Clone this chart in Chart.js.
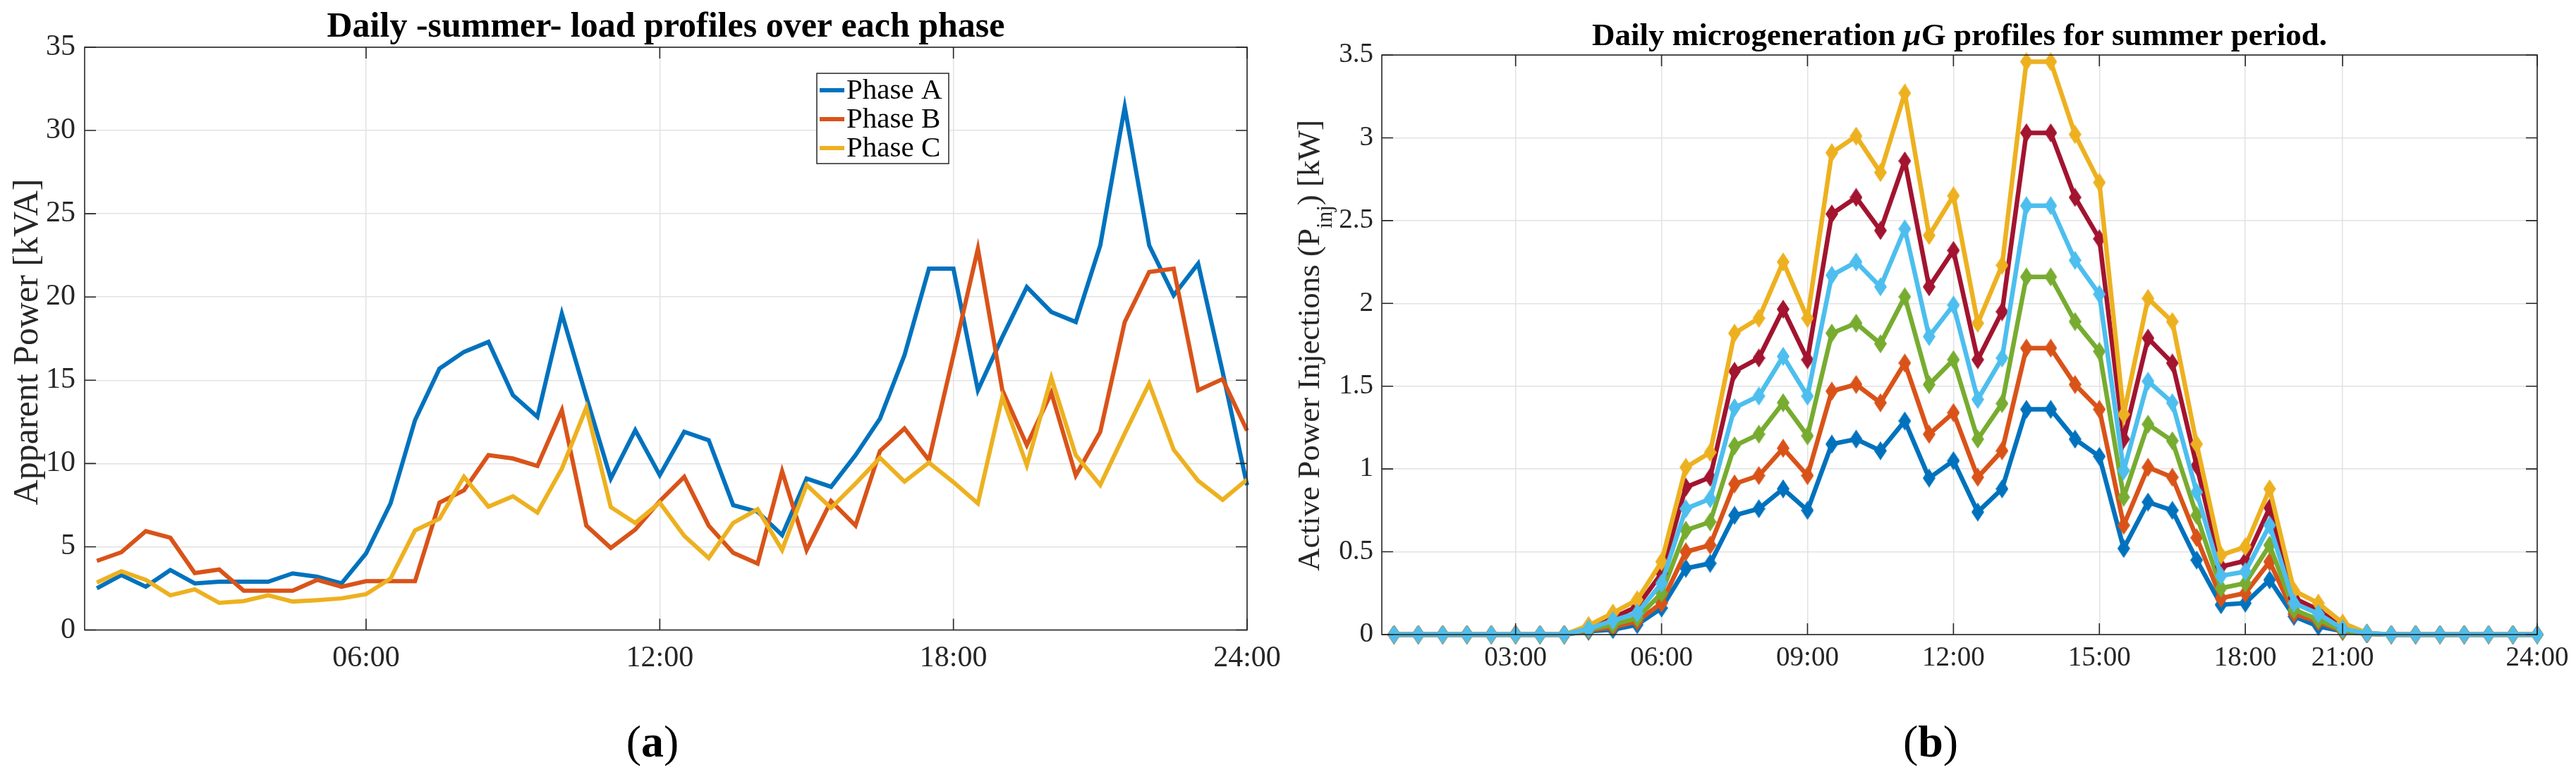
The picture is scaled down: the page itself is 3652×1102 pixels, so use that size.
<!DOCTYPE html>
<html>
<head>
<meta charset="utf-8">
<title>Daily summer load and microgeneration profiles</title>
<script src="https://cdn.jsdelivr.net/npm/chart.js@4.4.1/dist/chart.umd.min.js"></script>
<style>
  html, body { margin: 0; padding: 0; background: #fff; }
  #page { position: relative; width: 3652px; height: 1102px; overflow: hidden; }
  #page canvas { position: absolute; top: 0; }
</style>
</head>
<body>
<div id="page">
  <canvas id="load_chart" width="1830" height="1102" style="left:0"></canvas>
  <canvas id="gen_chart" width="1822" height="1102" style="left:1830px"></canvas>
</div>
<script>
// time of each sample, hours after midnight (one every half hour)
const hours = [0.5, 1, 1.5, 2, 2.5, 3, 3.5, 4, 4.5, 5, 5.5, 6, 6.5, 7, 7.5, 8,
  8.5, 9, 9.5, 10, 10.5, 11, 11.5, 12, 12.5, 13, 13.5, 14, 14.5, 15, 15.5, 16,
  16.5, 17, 17.5, 18, 18.5, 19, 19.5, 20, 20.5, 21, 21.5, 22, 22.5, 23, 23.5, 24]

// (a) apparent power per phase [kVA]
const phaseA = [2.5, 3.3, 2.6, 3.6, 2.8, 2.9, 2.9, 2.9, 3.4, 3.2, 2.8, 4.6,
  7.6, 12.6, 15.7, 16.7, 17.3, 14.1, 12.8, 19.0, 14.0, 9.1, 12.0, 9.3,
  11.9, 11.4, 7.5, 7.1, 5.7, 9.1, 8.6, 10.5, 12.7, 16.5, 21.7, 21.7,
  14.4, 17.6, 20.6, 19.1, 18.5, 23.1, 31.4, 23.1, 20.1, 22.0, 15.5, 8.7]
const phaseB = [4.15, 4.67, 5.94, 5.54, 3.42, 3.63, 2.36, 2.36, 2.36, 3.01, 2.6, 2.93,
  2.93, 2.93, 7.65, 8.39, 10.5, 10.3, 9.85, 13.2, 6.27, 4.93, 6.03, 7.74,
  9.2, 6.27, 4.64, 3.99, 9.53, 4.8, 7.74, 6.27, 10.75, 12.1, 10.2, 16.5,
  22.9, 14.4, 11.1, 14.25, 9.28, 11.9, 18.5, 21.5, 21.7, 14.4, 15.07, 11.97]
const phaseC = [2.85, 3.53, 3.01, 2.08, 2.44, 1.63, 1.74, 2.08, 1.71, 1.79, 1.9, 2.15,
  3.09, 5.98, 6.68, 9.2, 7.41, 8.03, 7.05, 9.69, 13.36, 7.38, 6.43, 7.65,
  5.65, 4.32, 6.43, 7.25, 4.8, 8.71, 7.33, 8.79, 10.34, 8.91, 10.05, 8.88,
  7.6, 14.0, 9.89, 15.15, 10.5, 8.71, 11.8, 14.8, 10.83, 8.96, 7.82, 9.04]

// (b) microgeneration injections [kW], six profiles
const genBlue = [0, 0, 0, 0, 0, 0, 0, 0, 0.02, 0.03, 0.06, 0.16,
  0.40, 0.43, 0.72, 0.76, 0.88, 0.75, 1.15, 1.18, 1.11, 1.29, 0.945, 1.05,
  0.74, 0.88, 1.36, 1.36, 1.18, 1.076, 0.52, 0.80, 0.75, 0.45, 0.18, 0.19,
  0.33, 0.11, 0.05, 0.02, 0.005, 0, 0, 0, 0, 0, 0, 0]
const genOrange = [0, 0, 0, 0, 0, 0, 0, 0, 0.025, 0.045, 0.08, 0.19,
  0.50, 0.54, 0.91, 0.96, 1.125, 0.96, 1.47, 1.51, 1.40, 1.64, 1.21, 1.34,
  0.95, 1.11, 1.73, 1.73, 1.51, 1.36, 0.66, 1.01, 0.95, 0.585, 0.22, 0.25,
  0.44, 0.126, 0.077, 0.02, 0.005, 0, 0, 0, 0, 0, 0, 0]
const genGreen = [0, 0, 0, 0, 0, 0, 0, 0, 0.03, 0.06, 0.10, 0.25,
  0.63, 0.68, 1.14, 1.21, 1.40, 1.20, 1.82, 1.88, 1.756, 2.04, 1.51, 1.66,
  1.18, 1.395, 2.16, 2.16, 1.89, 1.71, 0.83, 1.27, 1.17, 0.72, 0.28, 0.31,
  0.54, 0.15, 0.09, 0.025, 0.005, 0, 0, 0, 0, 0, 0, 0]
const genSky = [0, 0, 0, 0, 0, 0, 0, 0, 0.035, 0.085, 0.13, 0.31,
  0.76, 0.82, 1.37, 1.44, 1.68, 1.44, 2.17, 2.25, 2.10, 2.45, 1.80, 1.99,
  1.42, 1.67, 2.59, 2.59, 2.26, 2.055, 0.99, 1.53, 1.40, 0.86, 0.355, 0.38,
  0.66, 0.19, 0.126, 0.035, 0.008, 0, 0, 0, 0, 0, 0, 0]
const genRed = [0, 0, 0, 0, 0, 0, 0, 0, 0.045, 0.10, 0.17, 0.37,
  0.89, 0.95, 1.59, 1.67, 1.965, 1.66, 2.54, 2.64, 2.44, 2.86, 2.10, 2.32,
  1.66, 1.95, 3.03, 3.03, 2.64, 2.39, 1.18, 1.79, 1.64, 1.02, 0.41, 0.445,
  0.765, 0.22, 0.15, 0.04, 0.008, 0, 0, 0, 0, 0, 0, 0]
const genYellow = [0, 0, 0, 0, 0, 0, 0, 0, 0.055, 0.13, 0.21, 0.44,
  1.01, 1.10, 1.82, 1.91, 2.25, 1.91, 2.91, 3.01, 2.79, 3.27, 2.41, 2.65,
  1.88, 2.23, 3.46, 3.46, 3.02, 2.73, 1.33, 2.03, 1.89, 1.15, 0.48, 0.53,
  0.88, 0.265, 0.19, 0.07, 0.01, 0, 0, 0, 0, 0, 0, 0]

// axis ticks (the source figure puts its "21:00" label at the 20 h position)
const loadXTicks = [6, 12, 18, 24]
const loadXLabels = ['06:00', '12:00', '18:00', '24:00']
const loadYTicks = [0, 5, 10, 15, 20, 25, 30, 35]
const genXTicks = [3, 6, 9, 12, 15, 18, 20, 24]
const genXLabels = ['03:00', '06:00', '09:00', '12:00', '15:00', '18:00', '21:00', '24:00']
const genYTicks = [0, 0.5, 1, 1.5, 2, 2.5, 3, 3.5]
const genYLabels = ['0', '0.5', '1', '1.5', '2', '2.5', '3', '3.5']

const serif = '"Liberation Serif", "Times New Roman", serif'
const ink = '#262626'
const gridInk = '#e2e2e2'

const points = vals => vals.map((v, i) => ({ x: hours[i], y: v }))
const setTicks = vals => s => { s.ticks = vals.map(v => ({ value: v })) }

function diamond(color) {
  const c = document.createElement('canvas')
  c.width = 18
  c.height = 27
  const g = c.getContext('2d')
  g.fillStyle = color
  g.beginPath()
  g.moveTo(9, 0); g.lineTo(18, 13.5); g.lineTo(9, 27); g.lineTo(0, 13.5)
  g.closePath()
  g.fill()
  return c
}

// draws a row of text pieces centred on x, each with its own font / offset
function drawRuns(ctx, runs, x, y) {
  let total = 0
  runs.forEach(r => { ctx.font = r.font; r.w = ctx.measureText(r.text).width; total += r.w })
  let cx = x - total / 2
  runs.forEach(r => {
    ctx.font = r.font
    ctx.fillText(r.text, cx, y + (r.dy || 0))
    cx += r.w
  })
}

// MATLAB-like box, inner ticks, titles, caption and legend
const decor = {
  id: 'decor',
  afterDatasetsDraw(chart, args, o) {
    const { ctx, chartArea: a } = chart
    const xs = chart.scales.x, ys = chart.scales.y
    ctx.save()
    ctx.strokeStyle = ink
    ctx.lineWidth = 1.6
    ctx.beginPath()
    xs.ticks.forEach(t => {
      const p = xs.getPixelForValue(t.value)
      ctx.moveTo(p, a.bottom); ctx.lineTo(p, a.bottom - o.tick)
      ctx.moveTo(p, a.top); ctx.lineTo(p, a.top + o.tick)
    })
    ys.ticks.forEach(t => {
      const p = ys.getPixelForValue(t.value)
      ctx.moveTo(a.left, p); ctx.lineTo(a.left + o.tick, p)
      ctx.moveTo(a.right, p); ctx.lineTo(a.right - o.tick, p)
    })
    ctx.stroke()
    ctx.strokeRect(a.left, a.top, a.right - a.left, a.bottom - a.top)
    ctx.restore()
  },
  afterDraw(chart, args, o) {
    const { ctx, chartArea: a } = chart
    ctx.save()
    ctx.textAlign = 'left'
    ctx.textBaseline = 'alphabetic'
    ctx.fillStyle = '#000'
    drawRuns(ctx, o.title, (a.left + a.right) / 2, o.titleY)
    drawRuns(ctx, o.caption, o.captionX, o.captionY)

    ctx.fillStyle = ink
    ctx.save()
    ctx.translate(o.yLabelX, o.yLabelY)
    ctx.rotate(-Math.PI / 2)
    drawRuns(ctx, o.yLabel, 0, 0)
    ctx.restore()

    const L = o.legend
    if (L) {
      ctx.fillStyle = '#fff'
      ctx.fillRect(L.x, L.y, L.w, L.h)
      ctx.strokeStyle = ink
      ctx.lineWidth = 1.5
      ctx.strokeRect(L.x, L.y, L.w, L.h)
      ctx.textBaseline = 'middle'
      ctx.font = L.font
      chart.data.datasets.forEach((d, i) => {
        const ry = L.y + L.first + i * L.step
        ctx.strokeStyle = d.borderColor
        ctx.lineWidth = 6
        ctx.beginPath()
        ctx.moveTo(L.x + 4, ry); ctx.lineTo(L.x + 39, ry)
        ctx.stroke()
        ctx.fillStyle = '#000'
        ctx.fillText(d.label, L.x + 42, ry + 1)
      })
    }
    ctx.restore()
  }
}

function lineSet(label, vals, color, order) {
  return {
    label, data: points(vals), borderColor: color, backgroundColor: color,
    borderWidth: 6, pointRadius: 0, tension: 0, order, clip: false
  }
}

function genSet(label, vals, color, order) {
  return {
    label, data: points(vals), borderColor: color, backgroundColor: color,
    borderWidth: 6.5, pointRadius: 9, pointStyle: diamond(color),
    tension: 0, order, clip: false
  }
}

function axes(xTicks, xLabels, yTicks, yLabels, ymax, o) {
  return {
    x: {
      type: 'linear', min: 0.25, max: 24,
      afterBuildTicks: setTicks(xTicks),
      afterFit: s => { s.height = o.xHeight; s.paddingLeft = 0; s.paddingRight = 0 },
      ticks: {
        autoSkip: false, maxRotation: 0, padding: o.xPad, color: ink,
        font: { family: serif, size: o.tickSize },
        callback: (v, i) => xLabels[i]
      },
      grid: { color: gridInk, lineWidth: 1.5, drawTicks: false },
      border: { display: false }
    },
    y: {
      min: 0, max: ymax,
      afterBuildTicks: setTicks(yTicks),
      afterFit: s => { s.width = o.yWidth; s.paddingTop = 0; s.paddingBottom = 0 },
      ticks: {
        padding: o.yPad, color: ink,
        font: { family: serif, size: o.tickSize },
        callback: (v, i) => yLabels[i]
      },
      grid: { color: gridInk, lineWidth: 1.5, drawTicks: false },
      border: { display: false }
    }
  }
}

Chart.defaults.animation = false
Chart.defaults.devicePixelRatio = 1

new Chart(document.getElementById('load_chart'), {
  type: 'line',
  data: {
    datasets: [
      lineSet('Phase A', phaseA, '#0072BD', 2),
      lineSet('Phase B', phaseB, '#D95319', 1),
      lineSet('Phase C', phaseC, '#EDB120', 0)
    ]
  },
  options: {
    responsive: false,
    layout: { padding: { left: 0, right: 62, top: 67, bottom: 0 } },
    scales: axes(loadXTicks, loadXLabels, loadYTicks, loadYTicks.map(String), 35,
      { xHeight: 208.5, yWidth: 120, tickSize: 42, xPad: 15, yPad: 13 }),
    plugins: {
      legend: { display: false },
      tooltip: { enabled: false },
      decor: {
        tick: 16,
        title: [{ text: 'Daily -summer- load profiles over each phase', font: 'bold 50px ' + serif }],
        titleY: 52,
        yLabel: [{ text: 'Apparent Power [kVA]', font: '50px ' + serif }],
        yLabelX: 53, yLabelY: 485,
        caption: [
          { text: '(', font: '64px ' + serif },
          { text: 'a', font: 'bold 64px ' + serif },
          { text: ')', font: '64px ' + serif }
        ],
        captionX: 925, captionY: 1073,
        legend: { x: 1158, y: 104, w: 187, h: 128, first: 24, step: 41, font: '41px ' + serif }
      }
    }
  },
  plugins: [decor]
})

new Chart(document.getElementById('gen_chart'), {
  type: 'line',
  data: {
    datasets: [
      genSet('Profile 1', genBlue, '#0072BD', 5),
      genSet('Profile 2', genOrange, '#D95319', 4),
      genSet('Profile 3', genGreen, '#77AC30', 3),
      genSet('Profile 4', genSky, '#4DBEEE', 0),
      genSet('Profile 5', genRed, '#A2142F', 2),
      genSet('Profile 6', genYellow, '#EDB120', 1)
    ]
  },
  options: {
    responsive: false,
    layout: { padding: { left: 0, right: 55, top: 78, bottom: 0 } },
    scales: axes(genXTicks, genXLabels, genYTicks, genYLabels, 3.5,
      { xHeight: 202, yWidth: 129, tickSize: 39, xPad: 10, yPad: 12 }),
    plugins: {
      legend: { display: false },
      tooltip: { enabled: false },
      decor: {
        tick: 16,
        title: [
          { text: 'Daily microgeneration ', font: 'bold 45px ' + serif },
          { text: 'μ', font: 'italic bold 45px ' + serif },
          { text: 'G profiles for summer period.', font: 'bold 45px ' + serif }
        ],
        titleY: 64,
        yLabel: [
          { text: 'Active Power Injections (P', font: '45px ' + serif },
          { text: 'inj', font: '31px ' + serif, dy: 18 },
          { text: ') [kW]', font: '45px ' + serif }
        ],
        yLabelX: 40, yLabelY: 490,
        caption: [
          { text: '(', font: '64px ' + serif },
          { text: 'b', font: 'bold 64px ' + serif },
          { text: ')', font: '64px ' + serif }
        ],
        captionX: 907, captionY: 1073
      }
    }
  },
  plugins: [decor]
})
</script>
</body>
</html>
